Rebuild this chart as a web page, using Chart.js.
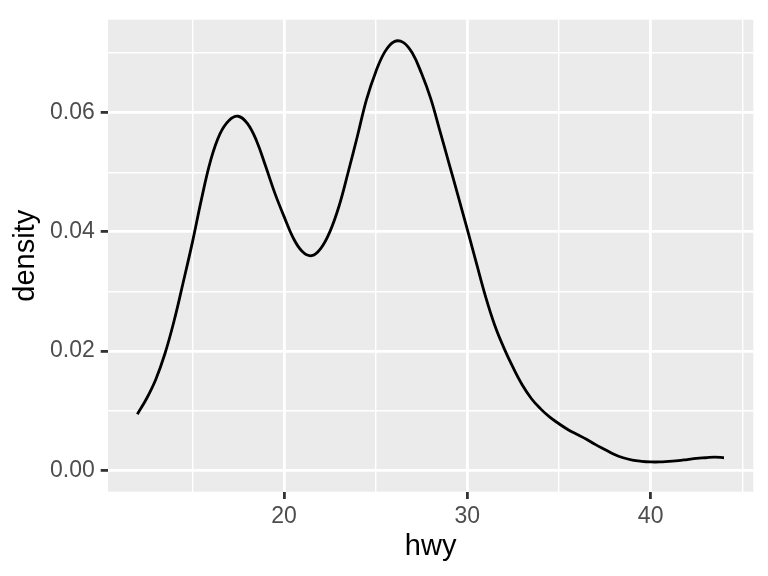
<!DOCTYPE html>
<html>
<head>
<meta charset="utf-8">
<script src="https://cdn.jsdelivr.net/npm/chart.js@4/dist/chart.umd.min.js"></script>
<style>
  html, body { margin: 0; padding: 0; background: #ffffff; }
  canvas { display: block; }
</style>
</head>
<body>
<canvas id="bieudo" width="768" height="576"></canvas>
<script>
// hwy values (x) and estimated density (y)
const hwy = [12, 12.5, 13, 13.5, 14, 14.5, 15, 15.5, 16, 16.5, 17, 17.5, 18, 18.5, 19, 19.5,
  20, 20.5, 21, 21.5, 22, 22.5, 23, 23.5, 24, 24.5, 25, 25.5, 26, 26.5, 27, 27.5,
  28, 28.5, 29, 29.5, 30, 30.5, 31, 31.5, 32, 32.5, 33, 33.5, 34, 34.5, 35, 35.5,
  36, 36.5, 37, 37.5, 38, 38.5, 39, 39.5, 40, 40.5, 41, 41.5, 42, 42.5, 43, 43.5, 44];
const density = [0.0094, 0.0120, 0.0152, 0.0195, 0.0250, 0.0315, 0.0382, 0.0455, 0.0520, 0.0564,
  0.0587, 0.0594, 0.0582, 0.0553, 0.0510, 0.0465, 0.0426, 0.0390, 0.0367, 0.0360,
  0.0372, 0.0400, 0.0443, 0.0500, 0.0560, 0.0622, 0.0668, 0.0702, 0.0719, 0.0718,
  0.0700, 0.0666, 0.0624, 0.0570, 0.0515, 0.0460, 0.0404, 0.0347, 0.0291, 0.0243,
  0.0205, 0.0172, 0.0143, 0.0120, 0.0103, 0.0089, 0.0078, 0.0068, 0.0060, 0.0052,
  0.0043, 0.0035, 0.0027, 0.0021, 0.0017, 0.0015, 0.0014, 0.0014, 0.0015, 0.0016,
  0.0018, 0.0020, 0.0021, 0.0022, 0.0021];

const xGrid = [15, 20, 25, 30, 35, 40, 45];
const xLabels = [20, 30, 40];
const yGrid = [0, 0.01, 0.02, 0.03, 0.04, 0.05, 0.06, 0.07];
const yLabels = ["0.00", "0.02", "0.04", "0.06"];

const font = "'Liberation Sans', Arial, Helvetica, sans-serif";

function isYMajor(v) {
  return yLabels.some(l => Math.abs(parseFloat(l) - v) < 1e-9);
}

// panel background
const nenXam = {
  id: "nenXam",
  beforeDraw(chart) {
    const a = chart.chartArea;
    const ctx = chart.ctx;
    ctx.save();
    ctx.fillStyle = "#EBEBEB";
    ctx.fillRect(a.left, a.top, a.right - a.left, a.bottom - a.top);
    ctx.restore();
  }
};

const ctx = document.getElementById("bieudo").getContext("2d");
new Chart(ctx, {
  type: "scatter",
  data: {
    datasets: [{
      data: hwy.map((x, i) => ({ x: x, y: density[i] })),
      showLine: true,
      borderColor: "#000000",
      borderWidth: 2.8,
      pointRadius: 0,
      tension: 0.4,
      fill: false
    }]
  },
  plugins: [nenXam],
  options: {
    responsive: false,
    animation: false,
    layout: { padding: { top: 14.7, right: 14.7, left: 0, bottom: 0 } },
    plugins: { legend: { display: false }, tooltip: { enabled: false } },
    scales: {
      x: {
        type: "linear",
        min: 10.4,
        max: 45.6,
        afterBuildTicks(scale) { scale.ticks = xGrid.map(v => ({ value: v })); },
        afterFit(scale) { scale.height = 84.3; },
        border: { display: false },
        grid: {
          color: "#FFFFFF",
          lineWidth: c => xLabels.includes(c.tick.value) ? 2.8 : 1.4,
          tickColor: c => xLabels.includes(c.tick.value) ? "#333333" : "rgba(0,0,0,0)",
          tickLength: 7.3,
          tickWidth: 2.8
        },
        ticks: {
          autoSkip: false,
          maxRotation: 0,
          padding: 4,
          color: "#4D4D4D",
          font: { family: font, size: 23 },
          callback: v => xLabels.includes(v) ? String(v) : ""
        },
        title: {
          display: true,
          text: "hwy",
          color: "#000000",
          font: { family: font, size: 29, lineHeight: 1.2 },
          padding: { top: 0, bottom: 12 }
        }
      },
      y: {
        type: "linear",
        min: -0.0036,
        max: 0.0756,
        afterBuildTicks(scale) { scale.ticks = yGrid.map(v => ({ value: v })); },
        afterFit(scale) { scale.width = 108; },
        border: { display: false },
        grid: {
          color: "#FFFFFF",
          lineWidth: c => isYMajor(c.tick.value) ? 2.8 : 1.4,
          tickColor: c => isYMajor(c.tick.value) ? "#333333" : "rgba(0,0,0,0)",
          tickLength: 7.3,
          tickWidth: 2.8
        },
        ticks: {
          autoSkip: false,
          padding: 5.9,
          color: "#4D4D4D",
          font: { family: font, size: 23 },
          callback: v => isYMajor(v) ? v.toFixed(2) : ""
        },
        title: {
          display: true,
          text: "density",
          color: "#000000",
          font: { family: font, size: 29, lineHeight: 1.2 },
          padding: { top: 9, bottom: 0 }
        }
      }
    }
  }
});
</script>
</body>
</html>
